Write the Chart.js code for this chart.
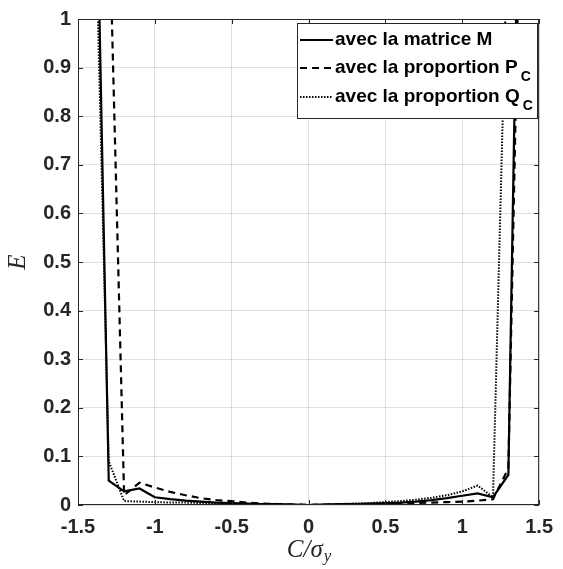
<!DOCTYPE html>
<html>
<head>
<meta charset="utf-8">
<script src="https://cdn.jsdelivr.net/npm/chart.js@4"></script>
<style>
  html, body { margin: 0; padding: 0; background: #fff; }
  #wrap { width: 563px; height: 569px; position: relative; }
</style>
</head>
<body>
<div id="wrap"><canvas id="chart"></canvas></div>
<script>
// C / sigma_y sample positions
const xValues = [-1.4, -1.3, -1.2, -1.1, -1.0, -0.9, -0.8, -0.7, -0.6, -0.5, -0.4, -0.3, -0.2, -0.1, 0,
  0.1, 0.2, 0.3, 0.4, 0.5, 0.6, 0.7, 0.8, 0.9, 1.0, 1.1, 1.2, 1.3, 1.4];

// E (null = no point)
const errMatrice = [1.63, 0.05, 0.028, 0.034, 0.016, 0.012, 0.009, 0.007, 0.005, 0.004, 0.003, 0.002, 0.002, 0.001, 0.0,
  0.001, 0.002, 0.002, 0.003, 0.004, 0.005, 0.007, 0.010, 0.014, 0.019, 0.024, 0.016, 0.062, 1.94];
const errPropP = [null, 1.25, 0.02, 0.046, 0.036, 0.027, 0.02, 0.014, 0.010, 0.008, 0.005, 0.003, 0.002, 0.001, 0.0,
  0.001, 0.001, 0.002, 0.002, 0.003, 0.003, 0.004, 0.005, 0.006, 0.007, 0.009, 0.012, 0.075, 1.62];
const errPropQ = [1.39, 0.09, 0.008, 0.007, 0.006, 0.005, 0.005, 0.004, 0.003, 0.003, 0.002, 0.002, 0.001, 0.001, 0.0,
  0.001, 0.002, 0.003, 0.004, 0.006, 0.008, 0.011, 0.015, 0.020, 0.028, 0.040, 0.016, 1.25, null];

const xTicks = [-1.5, -1, -0.5, 0, 0.5, 1, 1.5];
const yTicks = [0, 0.1, 0.2, 0.3, 0.4, 0.5, 0.6, 0.7, 0.8, 0.9, 1];

const legendMain = ["avec la matrice M", "avec la proportion P", "avec la proportion Q"];
const legendSub = ["", "C", "C"];

const axisColor = "#262626";
const tickFont = { family: "Liberation Sans", size: 20, weight: "bold" };

function points(ys) {
  const out = [];
  xValues.forEach(function (x, i) {
    if (ys[i] !== null) out.push({ x: x, y: ys[i] });
  });
  return out;
}

const lineStyles = [
  { dash: [], width: 2.2 },
  { dash: [7, 5], width: 2.2 },
  { dash: [1.5, 1.5], width: 2 }
];

// frame with inward ticks, axis titles and the boxed legend
const decorations = {
  id: "decorations",
  afterDraw: function (chart) {
    const ctx = chart.ctx;
    const a = chart.chartArea;
    const xs = chart.scales.x;
    const ys = chart.scales.y;
    ctx.save();
    ctx.strokeStyle = axisColor;
    ctx.lineWidth = 1;
    ctx.strokeRect(a.left + 0.5, a.top + 0.5, a.right - a.left - 1, a.bottom - a.top - 1);
    ctx.beginPath();
    xTicks.forEach(function (v) {
      const px = Math.round(xs.getPixelForValue(v)) + 0.5;
      ctx.moveTo(px, a.bottom); ctx.lineTo(px, a.bottom - 5);
      ctx.moveTo(px, a.top); ctx.lineTo(px, a.top + 5);
    });
    yTicks.forEach(function (v) {
      const py = Math.round(ys.getPixelForValue(v)) + 0.5;
      ctx.moveTo(a.left, py); ctx.lineTo(a.left + 5, py);
      ctx.moveTo(a.right, py); ctx.lineTo(a.right - 5, py);
    });
    ctx.stroke();

    // axis titles
    ctx.fillStyle = axisColor;
    ctx.textBaseline = "alphabetic";
    const cx = (a.left + a.right) / 2;
    const main = "C/\u03c3";
    ctx.font = "italic 25px 'Liberation Serif'";
    const wMain = ctx.measureText(main).width;
    ctx.font = "italic 17px 'Liberation Serif'";
    const wSub = ctx.measureText("y").width;
    const startX = cx - (wMain + wSub) / 2;
    ctx.font = "italic 25px 'Liberation Serif'";
    ctx.textAlign = "left";
    ctx.fillText(main, startX, 557);
    ctx.font = "italic 17px 'Liberation Serif'";
    ctx.fillText("y", startX + wMain + 1, 561);

    ctx.save();
    ctx.translate(25, (a.top + a.bottom) / 2);
    ctx.rotate(-Math.PI / 2);
    ctx.font = "italic 25px 'Liberation Serif'";
    ctx.textAlign = "center";
    ctx.fillText("E", 0, 0);
    ctx.restore();

    // legend
    const box = { left: 297, top: 23, right: 538, bottom: 119 };
    ctx.fillStyle = "#fff";
    ctx.fillRect(box.left, box.top, box.right - box.left, box.bottom - box.top);
    ctx.strokeStyle = axisColor;
    ctx.lineWidth = 1;
    ctx.strokeRect(box.left + 0.5, box.top + 0.5, box.right - box.left - 1, box.bottom - box.top - 1);
    const rows = [40, 68, 97];
    legendMain.forEach(function (label, i) {
      const y = rows[i];
      ctx.strokeStyle = "#000";
      ctx.lineWidth = lineStyles[i].width;
      ctx.setLineDash(lineStyles[i].dash);
      ctx.beginPath();
      ctx.moveTo(300, y); ctx.lineTo(333, y);
      ctx.stroke();
      ctx.setLineDash([]);
      ctx.fillStyle = "#000";
      ctx.font = "bold 19px 'Liberation Sans'";
      ctx.textAlign = "left";
      ctx.textBaseline = "middle";
      ctx.fillText(label, 335, y);
      if (legendSub[i]) {
        const w = ctx.measureText(label).width;
        ctx.font = "bold 14px 'Liberation Sans'";
        ctx.fillText(legendSub[i], 335 + w + 3, y + 9);
      }
    });
    ctx.restore();
  }
};

function makeDataset(label, ys, i) {
  return {
    label: label,
    data: points(ys),
    borderColor: "#000",
    borderWidth: lineStyles[i].width,
    borderDash: lineStyles[i].dash,
    pointRadius: 0,
    fill: false,
    tension: 0
  };
}

function plainLabel(value) {
  return String(Math.round(value * 10) / 10);
}

new Chart(document.getElementById("chart"), {
  type: "line",
  data: {
    datasets: [
      makeDataset(legendMain[0], errMatrice, 0),
      makeDataset(legendMain[1] + legendSub[1], errPropP, 1),
      makeDataset(legendMain[2] + legendSub[2], errPropQ, 2)
    ]
  },
  options: {
    responsive: true,
    maintainAspectRatio: false,
    animation: false,
    layout: { padding: { top: 14, right: 17, left: 0, bottom: 0 } },
    scales: {
      x: {
        type: "linear",
        min: -1.5,
        max: 1.5,
        afterBuildTicks: function (scale) {
          scale.ticks = xTicks.map(function (v) { return { value: v }; });
        },
        afterFit: function (scale) { scale.height = 64; },
        grid: { color: "rgba(0,0,0,0.12)", drawTicks: false },
        border: { display: false },
        ticks: { color: axisColor, font: tickFont, padding: 10, maxRotation: 0, callback: plainLabel }
      },
      y: {
        type: "linear",
        min: 0,
        max: 1,
        afterBuildTicks: function (scale) {
          scale.ticks = yTicks.map(function (v) { return { value: v }; });
        },
        afterFit: function (scale) { scale.width = 78; },
        grid: { color: "rgba(0,0,0,0.12)", drawTicks: false },
        border: { display: false },
        ticks: { color: axisColor, font: tickFont, padding: 7, callback: plainLabel }
      }
    },
    plugins: {
      legend: { display: false },
      tooltip: { enabled: false }
    }
  },
  plugins: [decorations]
});
</script>
</body>
</html>
